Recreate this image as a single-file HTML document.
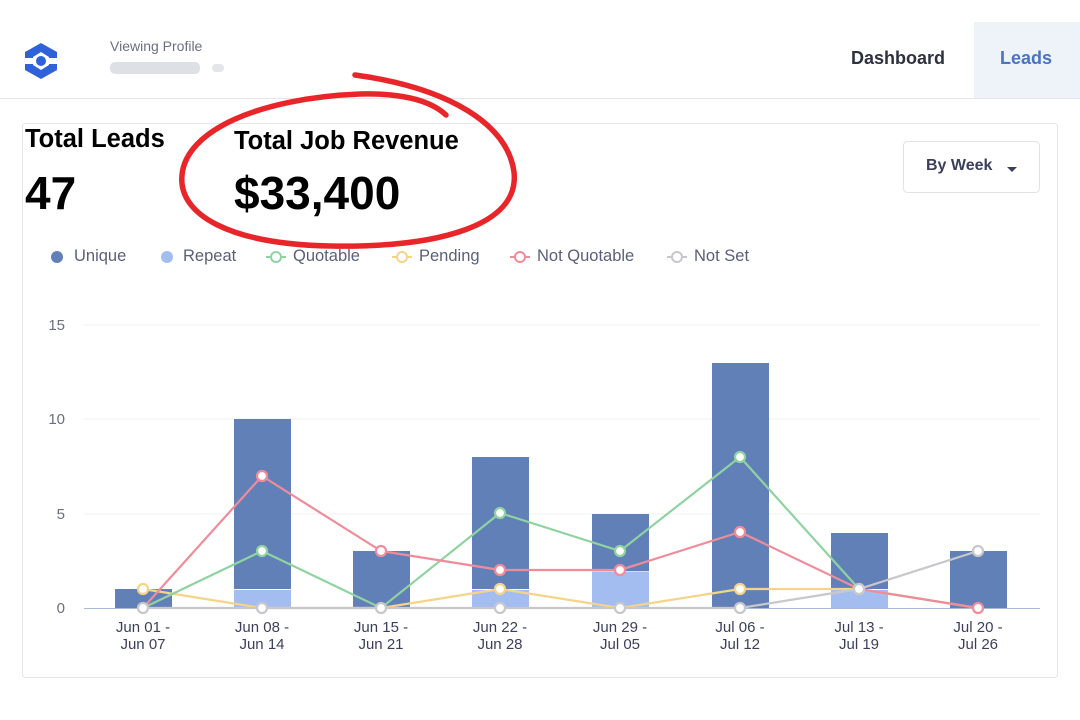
<!DOCTYPE html>
<html><head><meta charset="utf-8"><style>
body{margin:0;width:1080px;height:720px;background:#fff;font-family:"Liberation Sans",sans-serif;overflow:hidden;position:relative}
.t{position:absolute;white-space:nowrap}
</style></head><body>
<svg width="1080" height="720" style="position:absolute;left:0;top:0">
<polygon points="41,43 57,52 57,70 41,79 25,70 25,52" fill="#2f62d9"/>
<polygon points="41,52 49,57 49,65 41,70 33,65 33,57" fill="#fff"/>
<circle cx="41" cy="61" r="5" fill="#2f62d9"/>
<rect x="25" y="58" width="10" height="6" fill="#fff"/>
<rect x="47" y="58" width="10" height="6" fill="#fff"/>
<rect x="110" y="62" width="90" height="12" rx="5" fill="#d5d8de" opacity="0.8"/>
<rect x="212" y="64" width="12" height="8" rx="4" fill="#e3e5e9"/>
<rect x="974" y="22" width="106" height="76" fill="#eef3fa"/>
<line x1="0" y1="98.5" x2="1080" y2="98.5" stroke="#e4e6ea"/>
<rect x="22.5" y="123.5" width="1035" height="554" rx="3" fill="none" stroke="#e4e6ea"/>
<rect x="903.5" y="141.5" width="136" height="51" rx="4" fill="#fff" stroke="#dfe2e7"/>
<polygon points="1007,167 1017,167 1012,172" fill="#3b3f5c"/>
<circle cx="57" cy="257" r="6" fill="#6280b8"/>
<circle cx="167" cy="257" r="6" fill="#a3bdf0"/>
<g fill="#fff" stroke-width="2">
<line x1="266" y1="257" x2="286" y2="257" stroke="#8fd3a0"/><circle cx="276" cy="257" r="5" stroke="#8fd3a0"/>
<line x1="392" y1="257" x2="412" y2="257" stroke="#f5d48a"/><circle cx="402" cy="257" r="5" stroke="#f5d48a"/>
<line x1="510" y1="257" x2="530" y2="257" stroke="#f08c9a"/><circle cx="520" cy="257" r="5" stroke="#f08c9a"/>
<line x1="667" y1="257" x2="687" y2="257" stroke="#c8c8cc"/><circle cx="677" cy="257" r="5" stroke="#c8c8cc"/>
</g>
<g stroke="#edf0f4"><line x1="84" y1="325" x2="1040" y2="325"/><line x1="84" y1="419" x2="1040" y2="419"/><line x1="84" y1="514" x2="1040" y2="514"/></g>
<line x1="84" y1="608.5" x2="1040" y2="608.5" stroke="#a9b7d8"/>
<g font-size="15" fill="#6b6f80" text-anchor="end"><text x="65" y="330">15</text><text x="65" y="424">10</text><text x="65" y="519">5</text><text x="65" y="613">0</text></g>
<g fill="#6280b8">
<rect x="115" y="589" width="57" height="19"/>
<rect x="234" y="419" width="57" height="170"/>
<rect x="353" y="551" width="57" height="57"/>
<rect x="472" y="457" width="57" height="132"/>
<rect x="592" y="514" width="57" height="57"/>
<rect x="712" y="363" width="57" height="245"/>
<rect x="831" y="533" width="57" height="56"/>
<rect x="950" y="551" width="57" height="57"/>
</g>
<g fill="#a3bdf0">
<rect x="234" y="590" width="57" height="18"/>
<rect x="472" y="590" width="57" height="18"/>
<rect x="592" y="571.5" width="57" height="36.5"/>
<rect x="831" y="590" width="57" height="18"/>
</g>
<g fill="none" stroke-width="2.2">
<polyline stroke="#f5d48a" points="143,589 262,608 381,608 500,589 620,608 740,589 859,589 978,608"/>
<polyline stroke="#c8c8cc" points="143,608 262,608 381,608 500,608 620,608 740,608 859,589 978,551"/>
<polyline stroke="#8fd3a0" points="143,608 262,551 381,608 500,513 620,551 740,457 859,589 978,608"/>
<polyline stroke="#f08c9a" points="143,608 262,476 381,551 500,570 620,570 740,532 859,589 978,608"/>
</g>
<g fill="#fff" stroke-width="2.2">
<g stroke="#f5d48a"><circle cx="143" cy="589" r="5"/><circle cx="500" cy="589" r="5"/><circle cx="740" cy="589" r="5"/><circle cx="859" cy="589" r="5"/></g>
<g stroke="#8fd3a0"><circle cx="262" cy="551" r="5"/><circle cx="500" cy="513" r="5"/><circle cx="620" cy="551" r="5"/><circle cx="740" cy="457" r="5"/></g>
<g stroke="#f08c9a"><circle cx="262" cy="476" r="5"/><circle cx="381" cy="551" r="5"/><circle cx="500" cy="570" r="5"/><circle cx="620" cy="570" r="5"/><circle cx="740" cy="532" r="5"/><circle cx="978" cy="608" r="5"/></g>
<g stroke="#c8c8cc"><circle cx="143" cy="608" r="5"/><circle cx="262" cy="608" r="5"/><circle cx="381" cy="608" r="5"/><circle cx="500" cy="608" r="5"/><circle cx="620" cy="608" r="5"/><circle cx="740" cy="608" r="5"/><circle cx="859" cy="589" r="5"/><circle cx="978" cy="551" r="5"/></g>
</g>
<g font-size="15" fill="#3b3f5c" text-anchor="middle">
<text x="143" y="632">Jun 01 -</text><text x="143" y="649">Jun 07</text>
<text x="262" y="632">Jun 08 -</text><text x="262" y="649">Jun 14</text>
<text x="381" y="632">Jun 15 -</text><text x="381" y="649">Jun 21</text>
<text x="500" y="632">Jun 22 -</text><text x="500" y="649">Jun 28</text>
<text x="620" y="632">Jun 29 -</text><text x="620" y="649">Jul 05</text>
<text x="740" y="632">Jul 06 -</text><text x="740" y="649">Jul 12</text>
<text x="859" y="632">Jul 13 -</text><text x="859" y="649">Jul 19</text>
<text x="978" y="632">Jul 20 -</text><text x="978" y="649">Jul 26</text>
</g>
<path d="M355,75 C450,88 508,125 514,172 C520,225 440,248 330,246 C230,244 178,215 182,175 C186,130 260,98 360,94 C400,93 430,100 446,115" fill="none" stroke="#e8262a" stroke-width="5.5" stroke-linecap="round"/>
</svg>
<div class="t" style="left:110px;top:38px;font-size:14px;color:#6b6f80">Viewing Profile</div>
<div class="t" style="left:851px;top:48px;font-size:18px;font-weight:bold;color:#2d3140">Dashboard</div>
<div class="t" style="left:1000px;top:48px;font-size:18px;font-weight:bold;color:#4a73c2">Leads</div>
<div class="t" style="left:25px;top:125px;font-size:25.5px;font-weight:bold;color:#000">Total Leads</div>
<div class="t" style="left:25px;top:166px;font-size:46px;font-weight:bold;color:#000">47</div>
<div class="t" style="left:234px;top:127px;font-size:25.5px;font-weight:bold;color:#000">Total Job Revenue</div>
<div class="t" style="left:234px;top:166px;font-size:46px;font-weight:bold;color:#000">$33,400</div>
<div class="t" style="left:926px;top:157px;font-size:16px;font-weight:bold;color:#3b3f5c">By Week</div>
<div class="t" style="left:74px;top:247px;font-size:16.5px;color:#5a5f7a">Unique</div>
<div class="t" style="left:183px;top:247px;font-size:16.5px;color:#5a5f7a">Repeat</div>
<div class="t" style="left:293px;top:247px;font-size:16.5px;color:#5a5f7a">Quotable</div>
<div class="t" style="left:419px;top:247px;font-size:16.5px;color:#5a5f7a">Pending</div>
<div class="t" style="left:537px;top:247px;font-size:16.5px;color:#5a5f7a">Not Quotable</div>
<div class="t" style="left:694px;top:247px;font-size:16.5px;color:#5a5f7a">Not Set</div>
</body></html>
